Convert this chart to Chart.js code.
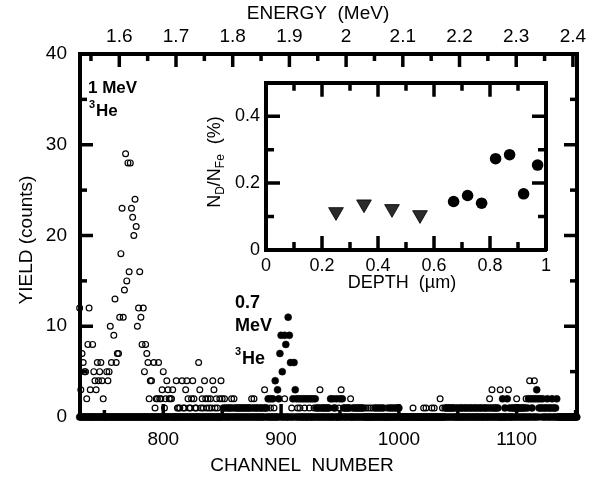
<!DOCTYPE html>
<html><head><meta charset="utf-8">
<script src="https://cdn.jsdelivr.net/npm/chart.js@4.4.0/dist/chart.umd.min.js"></script>
<style>
html,body{margin:0;padding:0;background:#fff;}
#wrap{position:relative;width:595px;height:480px;overflow:hidden;}
#main{position:absolute;left:0;top:0;}
#inset{position:absolute;left:190px;top:66px;}
</style></head><body>
<div id="wrap"><canvas id="main" width="595" height="480"></canvas><canvas id="inset" width="370" height="230"></canvas></div>
<script>
// ---------------- data ----------------
const channelRange = [729.3, 1151.2];
const yieldRange = [0, 40];
const energyRange = [1.5307, 2.4072];
const channelFirst = 729, channelLast = 1151;
const channelMajorTicks = [800, 900, 1000, 1100];
const channelMinorTicks = [750, 850, 950, 1050, 1150];
const yieldMajorTicks = [0, 10, 20, 30, 40];
const yieldMinorTicks = [5, 15, 25, 35];
const energyMajorTicks = [1.6, 1.7, 1.8, 1.9, 2, 2.1, 2.2, 2.3, 2.4];
const energyMinorTicks = [1.55, 1.65, 1.75, 1.85, 1.95, 2.05, 2.15, 2.25, 2.35];

// 1 MeV 3He spectrum (open circles): [channel, counts]; all other channels read as 0
const open1MeV = [
 [729,12],[730,3],[731,7],[732,6],[733,5],[734,5],[735,2],[736,8],[737,12],[738,3],[740,8],[741,5],[742,4],[743,3],
 [744,6],[745,4],[746,5],[747,6],[748,4],[749,2],[752,5],[753,4],[754,5],[755,10],[756,6],[758,9],[759,13],[760,6],
 [761,7],[762,7],[763,11],[764,18],[765,23],[766,11],[767,14],[768,29],[769,15],[770,28],[771,16],[772,28],[773,23],
 [774,22],[775,20],[776,24],[777,21],[778,10],[779,12],[780,16],[781,11],[782,8],[783,12],[784,5],[785,8],[786,7],
 [787,6],[788,2],[789,4],[790,4],[792,6],[793,1],[794,2],[795,2],[796,6],[797,2],[798,2],[799,3],[800,5],[801,1],
 [802,2],[803,4],[804,3],[805,2],[806,2],[807,2],[808,3],[811,4],[812,1],[813,1],[814,1],[816,4],[817,1],[818,1],
 [819,3],[820,4],[821,2],[822,1],[823,1],[824,2],[825,4],[826,2],[827,1],[828,1],[830,6],[831,3],[832,1],[833,2],
 [834,1],[835,4],[836,2],[837,1],[838,2],[839,1],[840,2],[841,1],[842,4],[843,3],[844,1],[845,2],[846,1],[848,2],
 [849,4],[850,2],[852,2],[856,1],[858,2],[860,2],[861,1],[863,1],[865,1],[867,1],[869,1],[871,1],[873,1],[875,2],
 [877,2],[879,1],[883,1],[886,3],[888,1],[891,1],[894,1],[903,2],[909,1],[914,1],[916,1],[920,1],[924,1],[928,1],
 [931,1],[933,3],[935,1],[937,1],[939,1],[941,1],[946,1],[949,1],[951,3],[954,1],[956,1],[959,2],[962,1],[964,1],
 [966,1],[968,1],[970,1],[972,1],[974,1],[976,1],[978,1],[981,1],[984,1],[987,1],[990,1],[999,1],[1012,1],[1021,1],
 [1023,1],[1028,1],[1030,1],[1035,2],[1037,1],[1039,1],[1042,1],[1045,1],[1049,1],[1053,1],[1057,1],[1061,1],
 [1065,1],[1069,1],[1073,1],[1077,2],[1079,3],[1081,1],[1083,1],[1086,3],[1093,3],[1097,1],[1100,2],[1103,1],
 [1106,1],[1108,2],[1111,4],[1115,4],[1120,1],[1124,1],[1128,1],[1132,1]
];
// 0.7 MeV 3He spectrum (filled circles): [channel, counts]; all other channels read as 0
const filled07MeV = [
 [851,1],[853,1],[855,1],[857,1],[859,1],[862,1],[864,1],[866,1],[868,1],[870,1],[872,1],[874,1],[876,1],[878,1],
 [880,1],[882,1],[884,1],[886,1],[887,1],[889,2],[891,2],[893,2],[895,4],[897,3],[898,2],[899,7],[900,9],[901,5],
 [903,9],[904,8],[906,11],[907,9],[908,6],[910,2],[911,6],[912,3],[913,2],[915,2],[917,2],[919,2],[921,2],[923,2],
 [925,2],[927,2],[929,2],[930,1],[932,1],[934,1],[936,1],[938,1],[940,1],[942,2],[944,2],[945,1],[947,2],[950,2],
 [952,2],[953,1],[955,1],[957,1],[958,1],[961,1],[963,1],[965,1],[967,1],[969,1],[980,1],[983,1],[986,1],[992,1],
 [994,1],[996,1],[998,1],[1000,1],[1040,1],[1041,1],[1043,1],[1044,1],[1046,1],[1047,1],[1050,1],[1052,1],[1054,1],
 [1056,1],[1058,1],[1060,1],[1062,1],[1064,1],[1066,1],[1068,1],[1070,1],[1072,1],[1074,1],[1076,1],[1078,1],
 [1080,1],[1082,1],[1084,1],[1088,2],[1090,1],[1092,2],[1094,1],[1096,1],[1098,1],[1099,1],[1101,1],[1102,1],
 [1104,1],[1105,1],[1107,1],[1109,1],[1110,2],[1112,2],[1113,1],[1114,2],[1116,2],[1117,3],[1118,2],[1119,1],
 [1120,2],[1121,1],[1122,2],[1123,1],[1125,1],[1126,2],[1127,1],[1129,1],[1130,2],[1131,1],[1133,1],[1134,2]
];

// inset: N_D/N_Fe (%) versus depth (µm)
const insetTriDepth = [0.25, 0.35, 0.45, 0.55];
const insetTriRatio = [0.114, 0.137, 0.123, 0.105];
const insetDotDepth = [0.67, 0.72, 0.77, 0.82, 0.87, 0.92, 0.97];
const insetDotRatio = [0.145, 0.163, 0.140, 0.273, 0.285, 0.168, 0.254];
const insetXRange = [0, 1];
const insetYRange = [0, 0.5];
const insetXLabels = [0, 0.2, 0.4, 0.6, 0.8, 1];
const insetXMajor = [0.2, 0.4, 0.6, 0.8];
const insetXMinor = [0.1, 0.3, 0.5, 0.7, 0.9];
const insetYLabels = [0, 0.2, 0.4];
const insetYMajor = [0.2, 0.4];
const insetYMinor = [0.1, 0.3];

// ---------------- build ----------------
const FONT = "'Liberation Sans', Arial, sans-serif";
Chart.defaults.color = '#000';
Chart.defaults.font.family = FONT;

const channels = [];
for (let c = channelFirst; c <= channelLast; c++) channels.push(c);
const openMap = new Map(open1MeV);
const filledMap = new Map(filled07MeV);
const openData = channels.map(c => ({x: c, y: openMap.has(c) ? openMap.get(c) : 0}));
const filledData = channels.map(c => ({x: c, y: filledMap.has(c) ? filledMap.get(c) : 0}));

function setTicks(values) { return s => { s.ticks = values.map(v => ({value: v})); }; }
const plainLabel = v => String(Math.round(v * 100) / 100);
const BORDER = { display: true, color: '#000', width: 4 };

function edgeScale(axis, position, min, max) {
  return { type: 'linear', axis, position, min, max, display: true,
    afterFit: s => { if (axis === 'x') s.height = 0; else s.width = 0; },
    grid: { display: false, drawTicks: false }, border: BORDER, ticks: { display: false } };
}

// inward tick marks: short line markers centred on the frame edge, clipped to the plot area
function tickMarks(points, xAxisID, yAxisID, rotation, len) {
  return { data: points, xAxisID, yAxisID, showLine: false, pointStyle: 'line', pointRotation: rotation,
    pointRadius: len, pointBorderWidth: 3.5, pointBorderColor: '#000', pointBackgroundColor: '#000', clip: 0 };
}
const atX = (vals, y) => vals.map(v => ({x: v, y}));
const atY = (vals, x) => vals.map(v => ({x, y: v}));

const mainText = {
  id: 'mainText',
  afterDraw(chart) {
    const ctx = chart.ctx;
    ctx.save();
    ctx.fillStyle = '#000';
    ctx.textBaseline = 'middle';
    ctx.textAlign = 'center';
    ctx.font = '19px ' + FONT;
    ctx.fillText('ENERGY  (MeV)', 318, 14);
    ctx.fillText('CHANNEL  NUMBER', 302, 466);
    ctx.save();
    ctx.translate(27, 240);
    ctx.rotate(-Math.PI / 2);
    ctx.fillText('YIELD (counts)', 0, 0);
    ctx.restore();
    ctx.textAlign = 'left';
    ctx.font = 'bold 17px ' + FONT;
    ctx.fillText('1 MeV', 88, 88);
    ctx.font = 'bold 11px ' + FONT;
    ctx.fillText('3', 89, 105);
    ctx.font = 'bold 17px ' + FONT;
    ctx.fillText('He', 96, 111);
    ctx.font = 'bold 18px ' + FONT;
    ctx.fillText('0.7', 235, 303);
    ctx.fillText('MeV', 235, 326);
    ctx.font = 'bold 11px ' + FONT;
    ctx.fillText('3', 235, 352);
    ctx.font = 'bold 18px ' + FONT;
    ctx.fillText('He', 242, 359);
    ctx.restore();
  }
};

new Chart(document.getElementById('main'), {
  type: 'scatter',
  data: {
    datasets: [
      tickMarks(atX(channelMajorTicks, yieldRange[0]), 'x', 'y', 90, 13),
      tickMarks(atX(channelMinorTicks, yieldRange[0]), 'x', 'y', 90, 7),
      tickMarks(atX(energyMajorTicks, yieldRange[1]), 'xTop', 'y', 90, 13),
      tickMarks(atX(energyMinorTicks, yieldRange[1]), 'xTop', 'y', 90, 7),
      tickMarks(atY(yieldMajorTicks, channelRange[0]), 'x', 'y', 0, 13),
      tickMarks(atY(yieldMinorTicks, channelRange[0]), 'x', 'y', 0, 7),
      tickMarks(atY(yieldMajorTicks, channelRange[1]), 'x', 'y', 0, 13),
      tickMarks(atY(yieldMinorTicks, channelRange[1]), 'x', 'y', 0, 7),
      { label: '0.7 MeV', data: filledData, pointStyle: 'circle', pointRadius: 3.5, pointBackgroundColor: '#000',
        pointBorderColor: '#000', pointBorderWidth: 0.5, showLine: false, clip: false },
      { label: '1 MeV', data: openData, pointStyle: 'circle', pointRadius: 2.9, pointBackgroundColor: 'rgba(0,0,0,0)',
        pointBorderColor: '#000', pointBorderWidth: 1.2, showLine: false, clip: false }
    ]
  },
  options: {
    responsive: false, animation: false, devicePixelRatio: 1,
    layout: { padding: { left: 0, right: 18, top: 0, bottom: 0 }, autoPadding: false },
    plugins: { legend: { display: false }, tooltip: { enabled: false } },
    events: [],
    scales: {
      x: { type: 'linear', position: 'bottom', min: channelRange[0], max: channelRange[1],
        afterBuildTicks: setTicks(channelMajorTicks), afterFit: s => { s.height = 63; },
        grid: { display: false, drawTicks: false }, border: BORDER,
        ticks: { padding: 11, font: { size: 19 }, autoSkip: false, maxRotation: 0, callback: plainLabel } },
      xTop: { type: 'linear', axis: 'x', position: 'top', min: energyRange[0], max: energyRange[1],
        afterBuildTicks: setTicks(energyMajorTicks), afterFit: s => { s.height = 54; },
        grid: { display: false, drawTicks: false }, border: BORDER,
        ticks: { padding: 6, font: { size: 19 }, autoSkip: false, maxRotation: 0, callback: plainLabel } },
      y: { type: 'linear', position: 'left', min: yieldRange[0], max: yieldRange[1],
        afterBuildTicks: setTicks(yieldMajorTicks), afterFit: s => { s.width = 80; },
        grid: { display: false, drawTicks: false }, border: BORDER,
        ticks: { padding: 13, font: { size: 19 }, callback: plainLabel } },
      yRight: edgeScale('y', 'right', yieldRange[0], yieldRange[1])
    }
  },
  plugins: [mainText]
});

const insetText = {
  id: 'insetText',
  afterDraw(chart) {
    const ctx = chart.ctx;
    ctx.save();
    ctx.fillStyle = '#000';
    ctx.textBaseline = 'middle';
    ctx.textAlign = 'center';
    ctx.font = '18px ' + FONT;
    ctx.fillText('DEPTH  (\u00b5m)', 212, 217);
    ctx.translate(25, 96);
    ctx.rotate(-Math.PI / 2);
    const big = '18px ' + FONT, small = '12px ' + FONT;
    const parts = [['N', big, 0], ['D', small, 6], ['/N', big, 0], ['Fe', small, 6], ['  (%)', big, 0]];
    let w = 0;
    for (const [t, f] of parts) { ctx.font = f; w += ctx.measureText(t).width; }
    let x = -w / 2;
    ctx.textAlign = 'left';
    for (const [t, f, dy] of parts) { ctx.font = f; ctx.fillText(t, x, dy); x += ctx.measureText(t).width; }
    ctx.restore();
  }
};

new Chart(document.getElementById('inset'), {
  type: 'scatter',
  data: {
    datasets: [
      tickMarks(atX(insetXMajor, insetYRange[0]), 'x', 'y', 90, 14),
      tickMarks(atX(insetXMinor, insetYRange[0]), 'x', 'y', 90, 8),
      tickMarks(atX(insetXMajor, insetYRange[1]), 'x', 'y', 90, 14),
      tickMarks(atX(insetXMinor, insetYRange[1]), 'x', 'y', 90, 8),
      tickMarks(atY(insetYMajor, insetXRange[0]), 'x', 'y', 0, 14),
      tickMarks(atY(insetYMinor, insetXRange[0]), 'x', 'y', 0, 8),
      tickMarks(atY(insetYMajor, insetXRange[1]), 'x', 'y', 0, 14),
      tickMarks(atY(insetYMinor, insetXRange[1]), 'x', 'y', 0, 8),
      { label: 'tri', data: insetTriDepth.map((d, i) => ({x: d, y: insetTriRatio[i]})), pointStyle: 'triangle', pointRotation: 180,
        pointRadius: 8.5, pointBackgroundColor: '#2b2b2b', pointBorderColor: '#000', pointBorderWidth: 0.8, clip: false },
      { label: 'dot', data: insetDotDepth.map((d, i) => ({x: d, y: insetDotRatio[i]})), pointStyle: 'circle',
        pointRadius: 5.8, pointBackgroundColor: '#000', pointBorderColor: '#000', pointBorderWidth: 0, clip: false }
    ]
  },
  options: {
    responsive: false, animation: false, devicePixelRatio: 1,
    layout: { padding: { left: 0, right: 14, top: 13, bottom: 0 }, autoPadding: false },
    plugins: { legend: { display: false }, tooltip: { enabled: false } },
    events: [],
    scales: {
      x: { type: 'linear', position: 'bottom', min: insetXRange[0], max: insetXRange[1], afterBuildTicks: setTicks(insetXLabels),
        afterFit: s => { s.height = 46; },
        grid: { display: false, drawTicks: false }, border: BORDER,
        ticks: { padding: 5, font: { size: 18 }, autoSkip: false, maxRotation: 0, callback: plainLabel } },
      y: { type: 'linear', position: 'left', min: insetYRange[0], max: insetYRange[1], afterBuildTicks: setTicks(insetYLabels),
        afterFit: s => { s.width = 76; },
        grid: { display: false, drawTicks: false }, border: BORDER,
        ticks: { padding: 6, font: { size: 18 }, callback: plainLabel } },
      xEdge: edgeScale('x', 'top', insetXRange[0], insetXRange[1]),
      yEdge: edgeScale('y', 'right', insetYRange[0], insetYRange[1])
    }
  },
  plugins: [insetText]
});
</script>
</body></html>
